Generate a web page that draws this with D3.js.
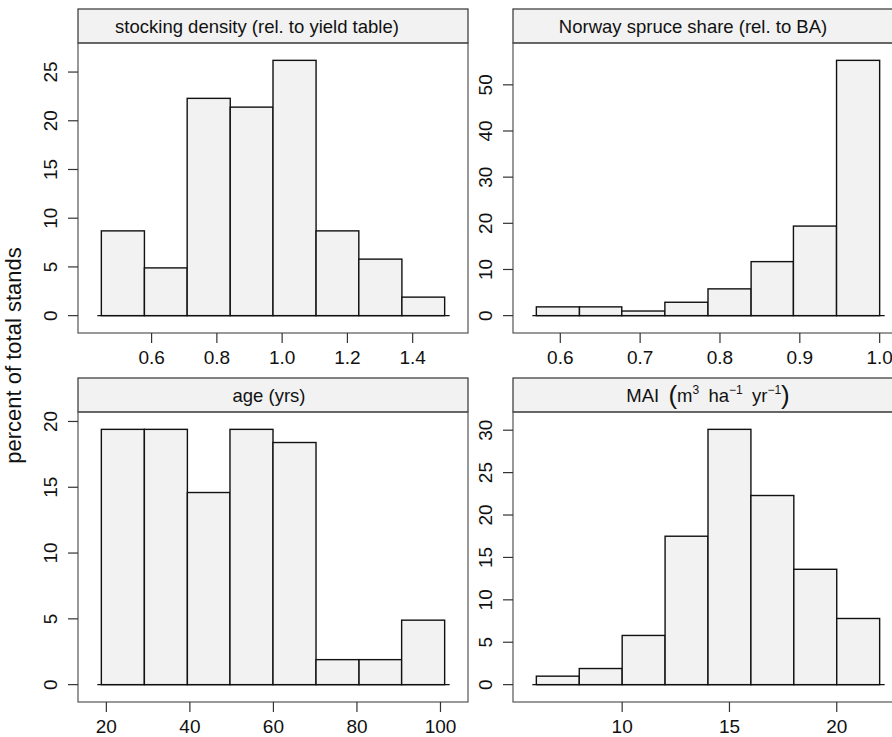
<!DOCTYPE html>
<html>
<head>
<meta charset="utf-8">
<script src="https://cdn.jsdelivr.net/npm/d3@7"></script>
<style>
  body { margin: 0; background: #fff; }
  svg { display: block; font-family: "Liberation Sans", Arial, sans-serif; }
</style>
</head>
<body>
<script>
// percent of stands per bin (103 stands)
var stockingBreaks = [0.446, 0.578, 0.709, 0.841, 0.972, 1.104, 1.235, 1.367, 1.498];
var stockingPct = [8.7, 4.9, 22.3, 21.4, 26.2, 8.7, 5.8, 1.9];

var spruceBreaks = [0.570, 0.624, 0.677, 0.731, 0.785, 0.839, 0.892, 0.946, 1.000];
var sprucePct = [1.9, 1.9, 1.0, 2.9, 5.8, 11.7, 19.4, 55.3];

var ageBreaks = [18.8, 29.1, 39.4, 49.6, 59.9, 70.2, 80.5, 90.7, 101.0];
var agePct = [19.4, 19.4, 14.6, 19.4, 18.4, 1.9, 1.9, 4.9];

var maiBreaks = [6, 8, 10, 12, 14, 16, 18, 20, 22];
var maiPct = [1.0, 1.9, 5.8, 17.5, 30.1, 22.3, 13.6, 7.8];

// tick labels
var stockingTicks = [0.6, 0.8, 1.0, 1.2, 1.4];
var spruceTicks = [0.6, 0.7, 0.8, 0.9, 1.0];
var ageTicks = [20, 40, 60, 80, 100];
var maiTicks = [10, 15, 20];

var stockingYTicks = [0, 5, 10, 15, 20, 25];
var spruceYTicks = [0, 10, 20, 30, 40, 50];
var ageYTicks = [0, 5, 10, 15, 20];
var maiYTicks = [0, 5, 10, 15, 20, 25, 30];

var W = 892, H = 737;
var boxW = 390, boxH = 290, stripH = 34;
var colX = [78, 513];
var rowY = [9, 378];
var pad = 0.068;

var panels = [
  { title: "stocking density (rel. to yield table)", breaks: stockingBreaks, pct: stockingPct,
    xt: stockingTicks, yt: stockingYTicks, fmt: d3.format(".1f"), col: 0, row: 0, tdx: -16 },
  { title: "Norway spruce share (rel. to BA)", breaks: spruceBreaks, pct: sprucePct,
    xt: spruceTicks, yt: spruceYTicks, fmt: d3.format(".1f"), col: 1, row: 0, tdx: -15 },
  { title: "age (yrs)", breaks: ageBreaks, pct: agePct,
    xt: ageTicks, yt: ageYTicks, fmt: d3.format("d"), col: 0, row: 1, tdx: -4 },
  { title: "MAI", breaks: maiBreaks, pct: maiPct,
    xt: maiTicks, yt: maiYTicks, fmt: d3.format("d"), col: 1, row: 1, tdx: 0, mai: true }
];

var svg = d3.select("body").append("svg")
  .attr("width", W)
  .attr("height", H);

panels.forEach(function (p) {
  var x0 = colX[p.col], top = rowY[p.row];
  var by0 = top + stripH, by1 = by0 + boxH;

  var lo = p.breaks[0], hi = p.breaks[p.breaks.length - 1];
  var xr = hi - lo;
  var x = d3.scaleLinear()
    .domain([lo - pad * xr, hi + pad * xr])
    .range([x0, x0 + boxW]);

  var ymax = d3.max(p.pct);
  var y = d3.scaleLinear()
    .domain([-pad * ymax, ymax * (1 + pad)])
    .range([by1, by0]);

  var g = svg.append("g");

  // strip
  g.append("rect")
    .attr("x", x0).attr("y", top)
    .attr("width", boxW).attr("height", stripH)
    .attr("fill", "#f2f2f2")
    .attr("stroke", "#333").attr("stroke-width", 1.2);

  var st = g.append("text")
    .attr("x", x0 + boxW / 2 + p.tdx)
    .attr("y", top + stripH / 2 + 6.5)
    .attr("text-anchor", "middle")
    .attr("font-size", 18.5)
    .attr("fill", "#111");
  if (p.mai) {
    st.append("tspan").text("MAI\u2002");
    st.append("tspan").attr("font-size", 26).attr("dy", 2).text("(");
    st.append("tspan").attr("dy", -2).text("m");
    st.append("tspan").attr("font-size", 12).attr("dy", -8).text("3");
    st.append("tspan").attr("dy", 8).text("\u2002ha");
    st.append("tspan").attr("font-size", 12).attr("dy", -8).text("\u22121");
    st.append("tspan").attr("dy", 8).text("\u2002yr");
    st.append("tspan").attr("font-size", 12).attr("dy", -8).text("\u22121");
    st.append("tspan").attr("font-size", 26).attr("dy", 10).text(")");
  } else {
    st.text(p.title);
  }

  // panel box
  g.append("rect")
    .attr("x", x0).attr("y", by0)
    .attr("width", boxW).attr("height", boxH)
    .attr("fill", "none")
    .attr("stroke", "#555").attr("stroke-width", 1.2);

  // bars
  g.selectAll("rect.bar")
    .data(p.pct)
    .enter().append("rect")
    .attr("class", "bar")
    .attr("x", function (d, i) { return x(p.breaks[i]); })
    .attr("width", function (d, i) { return x(p.breaks[i + 1]) - x(p.breaks[i]); })
    .attr("y", function (d) { return y(d); })
    .attr("height", function (d) { return y(0) - y(d); })
    .attr("fill", "#f2f2f2")
    .attr("stroke", "#111").attr("stroke-width", 1.4);

  // base line
  g.append("line")
    .attr("x1", x(lo) - 4).attr("x2", x(hi) + 5)
    .attr("y1", y(0)).attr("y2", y(0))
    .attr("stroke", "#111").attr("stroke-width", 1.4);

  // x axis
  var xa = g.append("g").attr("transform", "translate(0," + by1 + ")");
  xa.selectAll("line").data(p.xt).enter().append("line")
    .attr("x1", function (d) { return x(d); }).attr("x2", function (d) { return x(d); })
    .attr("y1", 0).attr("y2", 10)
    .attr("stroke", "#333").attr("stroke-width", 1.2);
  xa.selectAll("text").data(p.xt).enter().append("text")
    .attr("x", function (d) { return x(d); })
    .attr("y", 31)
    .attr("text-anchor", "middle")
    .attr("font-size", 19)
    .attr("fill", "#111")
    .text(p.fmt);

  // y axis
  var ya = g.append("g").attr("transform", "translate(" + x0 + ",0)");
  ya.selectAll("line").data(p.yt).enter().append("line")
    .attr("x1", -10).attr("x2", 0)
    .attr("y1", function (d) { return y(d); }).attr("y2", function (d) { return y(d); })
    .attr("stroke", "#333").attr("stroke-width", 1.2);
  ya.selectAll("text").data(p.yt).enter().append("text")
    .attr("transform", function (d) { return "translate(-21," + y(d) + ") rotate(-90)"; })
    .attr("text-anchor", "middle")
    .attr("font-size", 19)
    .attr("fill", "#111")
    .text(function (d) { return d; });
});

// shared y title
svg.append("text")
  .attr("transform", "translate(21," + ((rowY[0] + rowY[1] + stripH + boxH) / 2) + ") rotate(-90)")
  .attr("text-anchor", "middle")
  .attr("font-size", 22)
  .attr("fill", "#111")
  .text("percent of total stands");
</script>
</body>
</html>
